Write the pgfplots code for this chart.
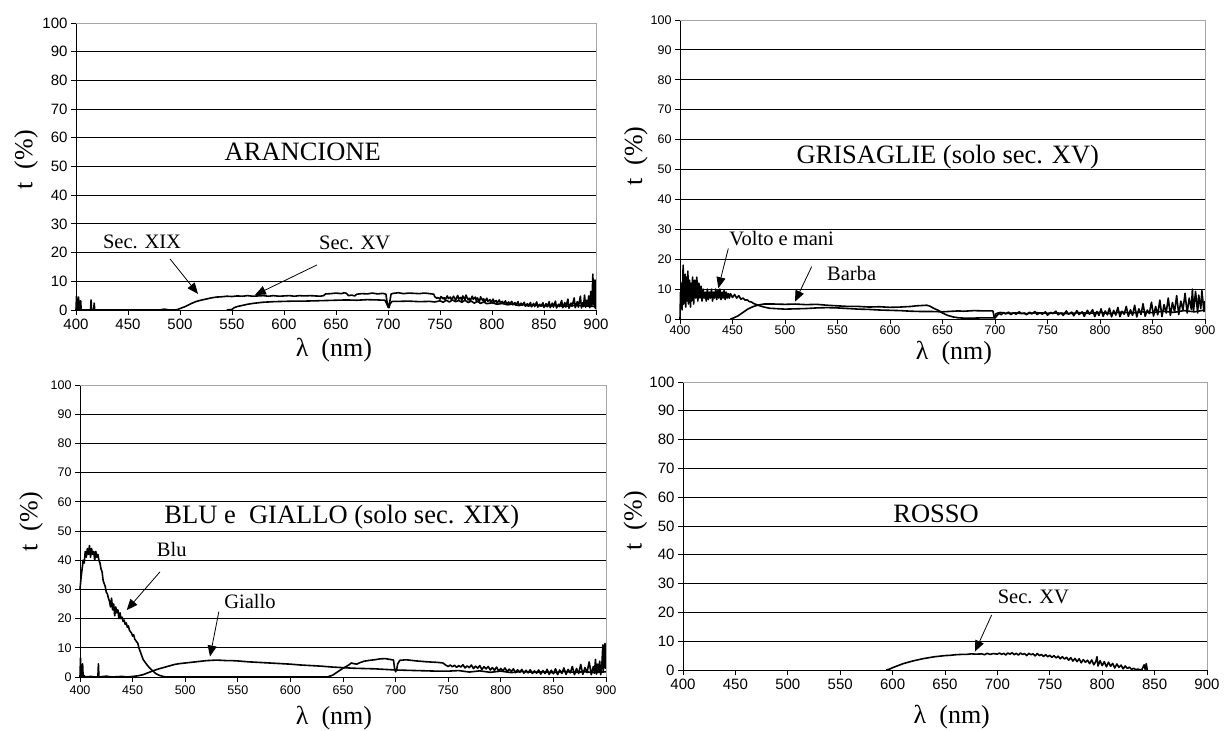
\documentclass[border=0pt]{standalone}
\usepackage{fontspec}
\setmainfont{Liberation Serif}
\setsansfont{Liberation Sans}
\usepackage{pgfplots}
\pgfplotsset{compat=1.18}
\usetikzlibrary{arrows.meta}
\pgfplotsset{
  spec/.style={
    scale only axis,
    anchor=south west,
    xmin=400, xmax=900, ymin=0, ymax=100,
    xtick={400,450,...,900}, ytick={0,10,...,100},
    axis x line*=bottom, axis y line*=left,
    axis line style={black, line width=0.9pt, -},
    tick align=outside, major tick length=5pt,
    tick style={black, line width=0.9pt},
    ymajorgrids, grid style={black, line width=0.8pt},
    /pgf/number format/assume math mode=true,
    /pgf/number format/set thousands separator={},
    clip=false, no markers,
    every axis plot post/.append style={black, line width=1.6pt, line join=round, mark=none},
    extra description/.code={\draw[gray!70, line width=0.9pt] (0,1) -- (1,1) -- (1,0);},
  },
  big/.style={tick label style={font=\fontsize{15}{17}\selectfont\sffamily}},
  small/.style={tick label style={font=\fontsize{12.5}{14}\selectfont\sffamily}},
  lbl/.style={label style={font=\fontsize{26}{28}\selectfont}},
}
\newcommand{\ttl}{\fontsize{26.5}{29}\selectfont}
\newcommand{\ann}{\fontsize{20.5}{23}\selectfont}
\tikzset{arr/.style={-{Triangle[length=11pt,width=9pt]}, line width=0.8pt}}
\begin{document}
\begin{tikzpicture}[x=1pt,y=1pt]
\useasboundingbox (0pt,0pt) rectangle (1224pt,731pt);
% ---------------- Panel 1: ARANCIONE
\begin{axis}[spec, big, lbl, at={(76pt,421pt)}, width=520pt, height=287pt,
  xlabel={λ\ \ (nm)}, ylabel={t\ \ (\%)},
  xlabel style={at={(axis description cs:0.496,-0.139)}, anchor=center},
  ylabel style={at={(axis description cs:-0.096,0.523)}, anchor=center}]
\addplot coordinates {(400,0) (400.5,4.8) (401,0) (402,0) (402.5,4.5) (403,0) (404,0) (404.5,3.2) (405,0) (414,0) (414.5,3.5) (415,0) (417,0) (417.5,2.4) (418,0) (480,0) (485,0.3) (490,0) (495,0) (498,0.2) (500,0.5) (505,1.2) (510,2.1) (515,2.9) (520,3.4) (525,3.8) (530,4.2) (535,4.5) (540,4.6) (545,4.8) (550,4.7) (555,4.9) (560,4.8) (565,5.0) (570,4.8) (575,4.9) (580,5.0) (585,4.8) (590,5.0) (595,4.8) (600,4.9) (605,5.0) (610,4.8) (615,5.0) (620,4.9) (625,5.0) (630,4.9) (635,4.8) (638,5.0) (640,5.6) (645,5.7) (650,5.9) (655,5.7) (658,6.0) (660,5.8) (662,5.0) (665,5.2) (668,4.9) (670,5.5) (675,5.7) (680,5.6) (685,5.9) (690,5.6) (695,5.8) (698,5.5) (699,3.0) (700,1.5) (701,1.2) (702,3.5) (703,5.6) (705,5.8) (710,6.0) (715,5.7) (720,5.9) (725,5.8) (730,5.7) (735,5.9) (740,5.7) (744,5.5) (745,4.6) (747,4.1) (748,4.4) (750,3.8) (751,4.7) (753,3.9) (754,4.3) (755,3.6) (757,4.9) (758,4.0) (760,4.5) (761,3.5) (763,4.8) (764,4.2) (765,3.4) (767,5.1) (768,3.8) (770,4.4) (771,3.3) (772,4.9) (774,3.6) (775,5.2) (777,3.5) (778,4.1) (779,3.2) (781,4.8) (782,3.7) (784,4.5) (785,3.1) (786,4.2) (788,3.0) (789,4.6) (791,3.3) (792,3.9) (793,2.8) (795,4.1) (796,3.0) (798,3.6) (799,2.6) (801,3.8) (802,2.7) (804,3.3) (805,2.4) (807,3.5) (808,2.5) (810,3.0) (811,2.2) (813,3.2) (814,2.0) (816,2.8) (817,2.1) (819,3.0) (820,1.8) (822,2.6) (823,1.7) (825,2.9) (826,1.5) (828,2.4) (829,1.6) (831,2.7) (832,1.3) (834,2.2) (835,1.4) (837,2.6) (838,1.1) (840,2.3) (841,1.2) (843,2.8) (844,1.0) (846,2.0) (847,1.3) (849,2.5) (850,0.9) (852,2.2) (853,1.1) (855,2.9) (856,0.8) (858,2.4) (859,1.0) (861,3.1) (862,0.7) (864,2.0) (865,1.2) (867,3.3) (868,0.8) (870,2.6) (871,1.0) (873,3.8) (874,0.6) (876,2.4) (877,1.3) (879,4.2) (880,0.8) (882,2.9) (883,1.0) (885,4.8) (886,0.7) (887,2.5) (888,1.2) (889,5.2) (890,0.9) (891,3.4) (892,1.4) (893,4.9) (894,0.8) (895,6.5) (896,1.5) (897,12.5) (897.5,2.0) (898,9.0) (898.5,1.0) (899,10.5) (899.5,0.5) (900,8.0)};
\addplot coordinates {(545,0) (550,0.2) (552,0.8) (555,1.2) (560,1.6) (565,2.0) (570,2.3) (575,2.5) (580,2.7) (590,2.9) (600,3.0) (610,3.1) (620,3.1) (630,3.2) (640,3.3) (650,3.4) (660,3.5) (670,3.4) (680,3.6) (690,3.5) (697,3.4) (699,2.0) (700,1.0) (701,0.8) (702,2.2) (704,3.0) (710,3.0) (720,3.1) (730,2.9) (740,3.0) (745,2.8) (750,3.2) (753,2.7) (756,3.4) (759,2.8) (762,3.5) (765,2.9) (768,3.3) (771,2.7) (774,3.4) (777,2.6) (780,3.1) (783,2.4) (786,3.0) (789,2.3) (792,2.8) (795,2.2) (800,2.5) (805,2.0) (810,2.3) (815,1.8) (820,2.1) (825,1.6) (830,1.9) (835,1.4) (840,1.7) (850,1.4) (860,1.6) (870,1.3) (880,1.6) (890,1.4) (900,1.2)};
\node[font=\ttl] at (axis cs:618,55.2) {ARANCIONE};
\node[font=\ann] at (axis cs:463.5,23.7) {Sec. XIX};
\draw[arr] (axis cs:490.4,17.8) -- (axis cs:517.3,5.6);
\node[font=\ann] at (axis cs:668,23.3) {Sec. XV};
\draw[arr] (axis cs:631.7,15.7) -- (axis cs:572,5.2);
\end{axis}
% ---------------- Panel 2: GRISAGLIE
\begin{axis}[spec, small, lbl, at={(680pt,412pt)}, width=525pt, height=299pt,
  xlabel={λ\ \ (nm)}, ylabel={t\ \ (\%)},
  xticklabel style={yshift=1.5pt},
  xlabel style={at={(axis description cs:0.522,-0.114)}, anchor=center},
  ylabel style={at={(axis description cs:-0.084,0.545)}, anchor=center}]
\addplot coordinates {(400,0) (400.5,9) (401,4) (401.5,12) (402,3) (403,18) (403.5,5) (404,10) (405,15) (405.5,4) (406,14) (407,6) (407.5,16) (408,5) (409,13) (410,4) (410.5,12) (411,6) (412,14) (413,5) (414,13) (415,7) (416,14) (417,6) (418,12) (419,7) (420,11) (421,6) (422,10) (423,7) (424,9) (425,6) (426,10) (427,6.5) (428,9) (429,7) (430,10) (431,6) (432,9) (433,7) (434,10) (435,6.5) (436,9.5) (437,7) (438,10) (439,6.5) (440,9) (441,7) (442,9.5) (443,6.5) (444,9) (445,7) (446,8.5) (447,7) (448,8.5) (450,7.2) (452,8.2) (454,7.0) (456,7.8) (458,6.6) (460,7.0) (462,6.3) (464,6.4) (466,5.8) (468,5.7) (470,5.2) (473,4.8) (476,4.4) (480,4.0) (485,3.6) (490,3.5) (495,3.4) (500,3.3) (510,3.4) (520,3.5) (530,3.7) (540,3.8) (550,3.7) (560,3.5) (570,3.3) (580,3.2) (590,3.0) (600,2.9) (610,2.8) (620,2.6) (630,2.5) (640,2.5) (650,2.4) (660,2.6) (665,2.7) (670,2.6) (680,2.8) (690,2.7) (698,2.7) (699,1.0) (700,0.3) (702,1.2) (704,1.9) (706,1.4) (708,2.2) (710,1.7) (713,2.3) (715,1.5) (718,2.1) (720,1.6) (723,2.4) (725,1.8) (728,2.0) (730,1.4) (733,2.3) (735,1.7) (738,2.5) (740,1.5) (743,2.1) (745,1.6) (748,2.4) (750,1.3) (753,2.2) (755,1.8) (758,2.6) (760,1.4) (763,2.0) (765,1.2) (768,2.7) (770,1.6) (773,2.3) (775,1.1) (778,2.8) (780,1.5) (783,2.4) (785,0.9) (788,2.9) (790,1.6) (793,3.1) (795,0.8) (797,2.5) (799,1.2) (801,3.4) (803,0.9) (805,2.7) (807,1.4) (809,3.6) (811,0.7) (813,2.9) (815,1.3) (817,3.9) (819,0.8) (821,2.6) (823,1.6) (825,4.2) (827,0.9) (829,3.1) (831,1.2) (833,4.6) (835,0.7) (837,3.4) (839,1.5) (841,5.1) (843,0.9) (845,3.0) (847,1.8) (849,5.6) (851,1.0) (853,4.2) (855,1.4) (857,6.3) (859,0.8) (861,4.8) (863,2.0) (865,7.0) (867,1.2) (869,5.5) (871,2.4) (873,7.8) (875,1.5) (877,6.0) (879,3.0) (881,8.6) (883,2.0) (885,7.0) (887,3.2) (888,10.0) (889,2.5) (891,9.2) (893,2.0) (894,8.0) (896,3.5) (897,9.5) (899,2.5) (900,6.0)};
\addplot coordinates {(448,0) (450,0.2) (455,1.0) (460,2.2) (465,3.4) (470,4.2) (475,4.7) (480,5.0) (490,5.0) (500,4.9) (510,5.0) (520,4.8) (530,4.9) (540,4.6) (550,4.4) (560,4.2) (570,4.2) (580,4.0) (590,4.1) (600,3.9) (610,4.0) (620,4.2) (625,4.4) (630,4.5) (635,4.6) (638,4.3) (642,3.5) (646,2.9) (650,2.0) (655,1.2) (660,0.7) (665,0.4) (670,0.3) (680,0.3) (690,0.4) (699,0.4) (701,1.8) (705,2.2) (710,1.9) (720,2.0) (730,1.8) (740,2.1) (750,1.9) (760,2.0) (770,1.8) (780,2.1) (790,1.9) (800,2.2) (810,1.8) (820,2.3) (830,2.0) (840,2.4) (850,2.1) (860,2.6) (870,2.2) (880,2.8) (890,2.4) (900,3.0)};
\node[font=\ttl] at (axis cs:655,54.3) {GRISAGLIE (solo sec. XV)};
\node[font=\ann] at (axis cs:496.8,27) {Volto e mani};
\draw[arr] (axis cs:446,23.6) -- (axis cs:436.5,10.3);
\node[font=\ann] at (axis cs:563.5,15.3) {Barba};
\draw[arr] (axis cs:525.4,17.5) -- (axis cs:509.5,5.8);
\end{axis}
% ---------------- Panel 3: BLU e GIALLO
\begin{axis}[spec, small, lbl, at={(80pt,54pt)}, width=526pt, height=292pt,
  xlabel={λ\ \ (nm)}, ylabel={t\ \ (\%)},
  xlabel style={at={(axis description cs:0.483,-0.14)}, anchor=center},
  ylabel style={at={(axis description cs:-0.093,0.532)}, anchor=center}]
\addplot coordinates {(400,30) (401,34) (402,37) (403,40) (404,39) (405,43) (406,41) (407,44) (408,42) (409,45) (410,41) (411,44) (412,42) (413,43) (414,40) (415,43) (416,41) (417,42) (418,40) (419,39) (420,37) (421,36) (422,33) (423,32) (424,31) (425,29) (426,28.5) (427,27) (428,26) (429,24) (430,27) (431,23) (432,25) (433,21) (434,24) (435,22) (436,23) (437,20) (438,22) (439,20) (440,20.5) (441,19) (442,19.5) (443,18) (444,18.5) (445,17) (446,17.5) (447,16) (448,15.5) (449,15) (450,14) (451,14.5) (452,13) (453,12.5) (454,12) (455,11.5) (456,10) (457,9) (458,8) (459,7) (460,6) (462,5) (464,4) (466,3.2) (468,2.5) (470,1.8) (472,1.2) (474,0.8) (476,0.5) (478,0.3) (480,0.1) (482,0) (630,0) (635,0) (640,0.6) (645,1.8) (650,3.0) (655,4.0) (658,4.8) (660,4.6) (663,4.4) (666,4.9) (670,5.4) (675,5.7) (680,5.9) (685,6.2) (690,6.3) (695,6.0) (698,5.8) (699,3.0) (700,1.8) (701,2.5) (702,4.5) (704,5.7) (710,5.9) (715,5.7) (720,5.5) (730,5.2) (740,5.0) (745,4.8) (748,4.0) (750,3.6) (752,4.1) (754,3.5) (756,4.0) (758,3.3) (760,3.9) (762,3.4) (764,4.2) (766,3.1) (768,3.8) (770,3.2) (772,4.1) (774,2.9) (776,3.7) (778,3.0) (780,3.9) (782,2.6) (784,3.5) (786,2.8) (788,3.6) (790,2.4) (792,3.2) (794,2.3) (796,3.4) (798,2.0) (800,2.9) (802,2.1) (804,3.1) (806,1.8) (808,2.7) (810,1.9) (812,2.8) (814,1.5) (816,2.5) (818,1.6) (820,2.6) (822,1.3) (824,2.3) (826,1.4) (828,2.5) (830,1.2) (832,2.1) (834,1.3) (836,2.4) (838,1.0) (840,2.2) (842,1.2) (844,2.6) (846,0.9) (848,2.3) (850,1.1) (852,2.8) (854,0.8) (856,2.4) (858,1.2) (860,3.1) (862,0.9) (864,2.6) (866,1.4) (868,3.6) (870,0.8) (872,2.9) (874,1.2) (876,4.3) (878,0.9) (880,3.2) (882,1.5) (884,5.2) (886,0.8) (888,3.6) (889,1.3) (890,6.0) (891,1.0) (892,4.4) (893,1.6) (894,5.4) (895,0.8) (896,3.5) (897,11.0) (897.5,2.0) (898,8.0) (899,11.5) (899.5,3.0) (900,6.0)};
\addplot coordinates {(400,0) (400.5,6.5) (401,0) (402,0) (402.5,4.5) (403,0) (404,0.5) (405,0) (410,0.2) (415,0) (417,0) (417.5,4.5) (418,0) (425,0.3) (430,0) (440,0.2) (445,0) (450,0.2) (455,0.4) (460,0.8) (465,1.5) (470,2.2) (475,2.8) (480,3.3) (485,3.8) (490,4.3) (495,4.6) (500,4.8) (505,5.0) (510,5.2) (515,5.4) (520,5.6) (525,5.7) (530,5.8) (535,5.7) (540,5.6) (545,5.6) (550,5.5) (560,5.2) (570,5.0) (580,4.8) (590,4.6) (600,4.4) (610,4.1) (620,3.9) (630,3.7) (640,3.4) (650,3.2) (660,3.0) (670,2.9) (680,2.8) (690,2.6) (700,2.4) (710,2.3) (720,2.2) (730,2.1) (740,2.0) (750,2.0) (760,2.2) (770,1.7) (780,2.1) (790,1.6) (800,2.0) (810,1.5) (820,1.9) (830,1.6) (840,1.8) (850,1.5) (860,1.9) (870,1.6) (880,1.8) (890,1.5) (900,1.8)};
\node[font=\ttl] at (axis cs:648.9,54.9) {BLU e\ \ GIALLO (solo sec. XIX)};
\node[font=\ann] at (axis cs:487.2,43.5) {Blu};
\draw[arr] (axis cs:476,36) -- (axis cs:444.4,22.9);
\node[font=\ann] at (axis cs:561.6,25.8) {Giallo};
\draw[arr] (axis cs:532,22.4) -- (axis cs:523.6,7);
\end{axis}
% ---------------- Panel 4: ROSSO
\begin{axis}[spec, big, lbl, at={(683pt,61pt)}, width=524pt, height=288pt,
  xlabel={λ\ \ (nm)}, ylabel={t\ \ (\%)},
  xlabel style={at={(axis description cs:0.513,-0.162)}, anchor=center},
  ylabel style={at={(axis description cs:-0.091,0.518)}, anchor=center}]
\addplot coordinates {(594,0) (597,0.3) (600,0.8) (605,1.5) (610,2.2) (615,2.7) (620,3.2) (625,3.6) (630,4.0) (635,4.3) (640,4.6) (645,4.8) (650,5.0) (655,5.1) (660,5.3) (665,5.4) (670,5.4) (675,5.6) (680,5.5) (685,5.6) (688,5.3) (690,5.8) (693,5.4) (696,5.7) (700,5.5) (702,5.9) (704,5.4) (706,5.8) (708,5.2) (710,5.9) (712,5.5) (714,6.0) (716,5.3) (718,5.8) (720,5.2) (722,5.9) (724,5.4) (726,5.7) (728,5.0) (730,5.8) (732,5.3) (734,5.6) (736,4.9) (738,5.7) (740,5.0) (742,5.4) (744,4.7) (746,5.3) (748,4.6) (750,5.1) (752,4.4) (754,5.0) (756,4.2) (758,4.8) (760,3.9) (762,4.6) (764,3.8) (766,4.4) (768,3.4) (770,4.3) (772,3.1) (774,4.0) (776,2.9) (778,3.9) (780,2.5) (782,3.6) (784,2.7) (786,3.4) (788,2.2) (790,3.5) (792,1.8) (794,3.0) (795,4.6) (796,1.4) (798,3.2) (800,1.5) (802,2.9) (804,1.1) (806,2.7) (808,1.3) (810,2.3) (812,0.7) (814,2.1) (816,0.9) (818,1.7) (820,0.4) (822,1.4) (824,0.5) (826,1.0) (828,0.2) (830,0.6) (832,0.1) (834,0.3) (836,0.1) (838,0.2) (840,1.8) (841,0.2) (842,2.2) (843,0)};
\node[font=\ttl] at (axis cs:641.5,54.2) {ROSSO};
\node[font=\ann] at (axis cs:734.3,25.5) {Sec. XV};
\draw[arr] (axis cs:694.5,19.1) -- (axis cs:678.6,6.4);
\end{axis}
\end{tikzpicture}
\end{document}
